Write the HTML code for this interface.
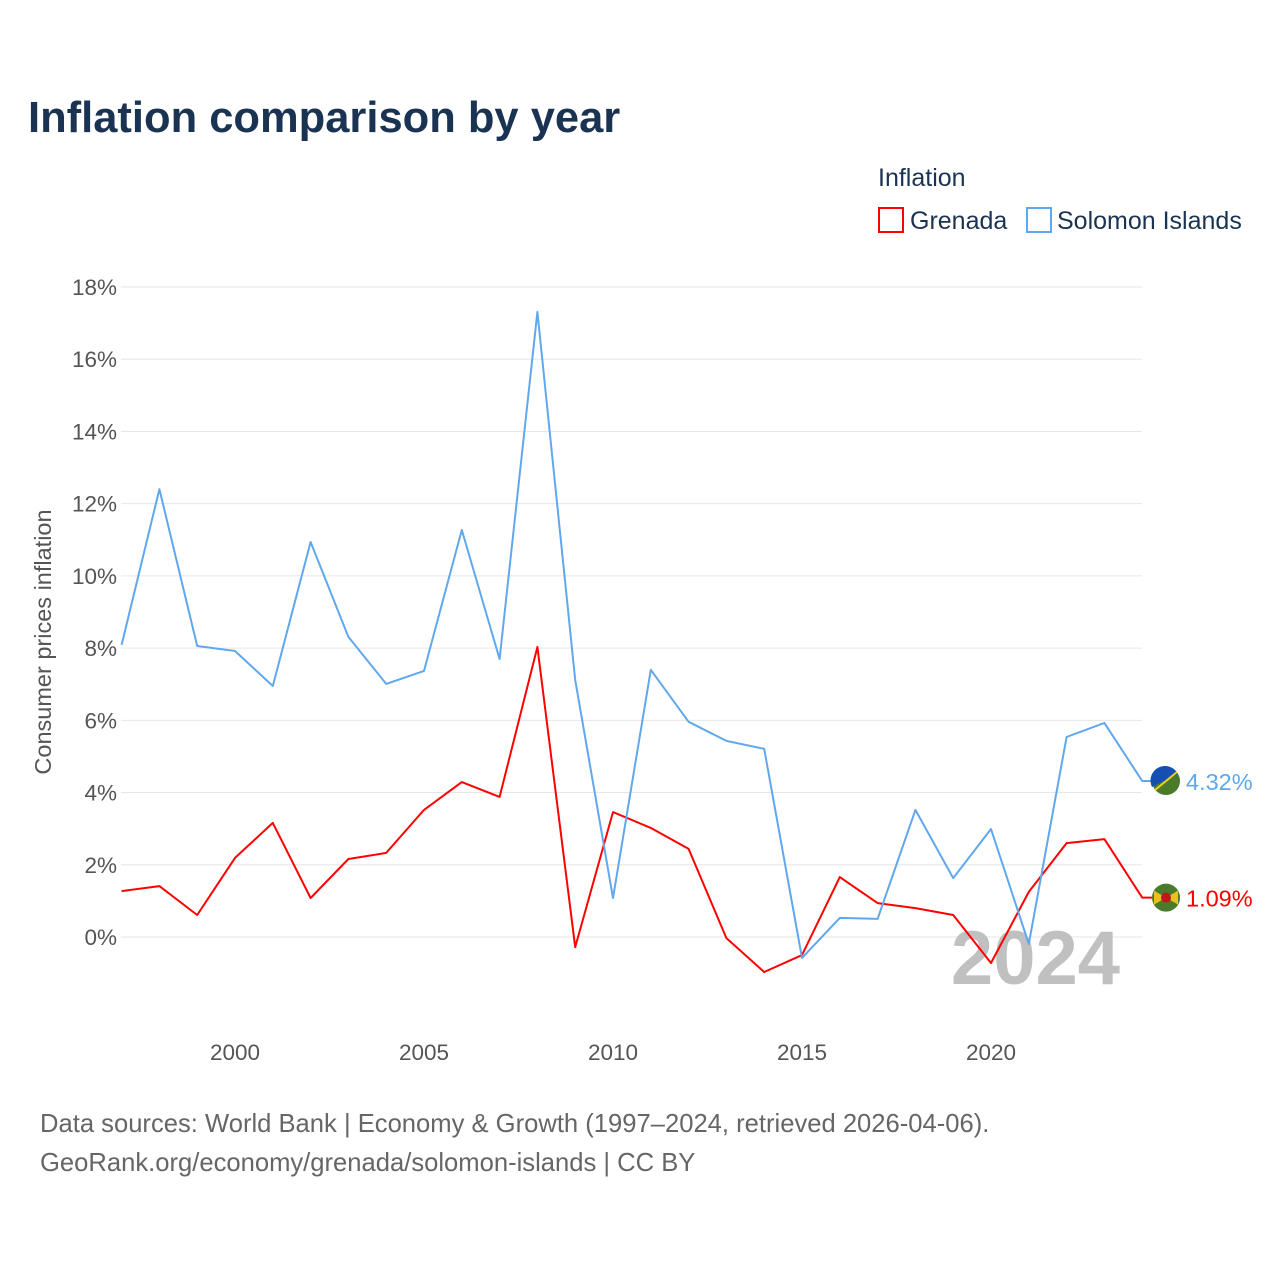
<!DOCTYPE html>
<html><head><meta charset="utf-8">
<style>
body{margin:0;background:#fff;font-family:"Liberation Sans",sans-serif;}
svg{display:block}
</style></head><body>
<svg id="c" width="1280" height="1280" xmlns="http://www.w3.org/2000/svg">
<text x="28" y="132" font-size="43.5" font-weight="bold" fill="#1b3352">Inflation comparison by year</text>
<text x="878" y="186" font-size="25" fill="#1b3352">Inflation</text>
<g><rect x="879" y="208" width="24" height="24" fill="none" stroke="#f00" stroke-width="2"/><text x="910" y="229" font-size="25" fill="#1b3352">Grenada</text></g>
<g><rect x="1027" y="208" width="24" height="24" fill="none" stroke="#60a8ee" stroke-width="2"/><text x="1057" y="229" font-size="25" fill="#1b3352">Solomon Islands</text></g>
<text transform="translate(51,642) rotate(-90)" text-anchor="middle" font-size="23.5" fill="#555">Consumer prices inflation</text>
<g id="grid"></g><g id="yt"></g><g id="xt"></g>
<text x="1120" y="984" text-anchor="end" font-size="76" font-weight="bold" fill="#c0c0c0">2024</text>
<g id="lines"></g>
<text x="40" y="1132" font-size="25.6" fill="#666">Data sources: World Bank | Economy &amp; Growth (1997–2024, retrieved 2026-04-06).</text>
<text x="40" y="1171" font-size="25.6" fill="#666">GeoRank.org/economy/grenada/solomon-islands | CC BY</text>
</svg>
<script>
const years=[1997,1998,1999,2000,2001,2002,2003,2004,2005,2006,2007,2008,2009,2010,2011,2012,2013,2014,2015,2016,2017,2018,2019,2020,2021,2022,2023,2024];
const solomon=[8.09,12.4,8.06,7.92,6.95,10.94,8.31,7.01,7.37,11.27,7.70,17.31,7.12,1.08,7.40,5.96,5.43,5.21,-0.58,0.53,0.50,3.52,1.63,2.99,-0.19,5.54,5.93,4.32];
const grenada=[1.27,1.41,0.61,2.19,3.16,1.08,2.16,2.33,3.52,4.29,3.88,8.03,-0.28,3.46,3.02,2.44,-0.03,-0.97,-0.50,1.66,0.94,0.80,0.61,-0.72,1.25,2.60,2.71,1.09];
const yTicks=[0,2,4,6,8,10,12,14,16,18];
const xTicks=[2000,2005,2010,2015,2020];
const NS="http://www.w3.org/2000/svg";
const X=y=>121.6+(y-1997)*37.8;
const Y=v=>937-v*36.11;
function mk(t,a,p){const e=document.createElementNS(NS,t);for(const k in a)e.setAttribute(k,a[k]);document.getElementById(p).appendChild(e);return e;}
yTicks.forEach(t=>{
 const l=mk('line',{x1:121,x2:1142,y1:Y(t),y2:Y(t),stroke:'#e6e6e6','stroke-width':1},'grid');
 
 
 const s=mk('text',{x:117,y:Y(t)+8,'text-anchor':'end','font-size':22.5,fill:'#555'},'yt');
 s.textContent=t+'%';
 
 
});
xTicks.forEach(t=>{
 const s=mk('text',{x:X(t),y:1060,'text-anchor':'middle','font-size':22.5,fill:'#555'},'xt');
 s.textContent=t;
 
 
});
function series(vals,col,name,label){
 let d=vals.map((v,i)=>(i?'L':'M')+X(years[i]).toFixed(1)+' '+Y(v).toFixed(1)).join(' ');
 const last=Y(vals[vals.length-1]);
 d+=' L1152 '+last.toFixed(1);
 const p=mk('path',{d:d,fill:'none',stroke:col,'stroke-width':2,'stroke-linejoin':'round'},'lines');
 
 
 const c=mk('circle',{cx:1166,cy:last,r:14,fill:'#4a7a2a'},'lines');
 
 
 const t=mk('text',{x:1186,y:last+9,'font-size':23.5,fill:col},'lines');
 t.textContent=label;
 
 
 return c;
}
series(grenada,'#ff0000','grenada',grenada[grenada.length-1].toFixed(2)+'%');
series(solomon,'#60a8ee','solomon-islands',solomon[solomon.length-1].toFixed(2)+'%');
const ys=Y(solomon[27]),yg=Y(grenada[27]);
const a=mk('path',{d:`M1152 ${ys+6} A14 14 0 0 1 1178 ${ys-7} Z`,fill:'#1550b0'},'lines');


const b=mk('line',{x1:1155,y1:ys+9,x2:1177,y2:ys-9,stroke:'#f0d020','stroke-width':2},'lines');


const g=mk('path',{d:`M1154 ${yg-7} L1178 ${yg+7} L1178 ${yg-7} L1154 ${yg+7} Z`,fill:'#e8c020'},'lines');


const g2=mk('circle',{cx:1166,cy:yg,r:5,fill:'#c01818'},'lines');


</script>
</body></html>
